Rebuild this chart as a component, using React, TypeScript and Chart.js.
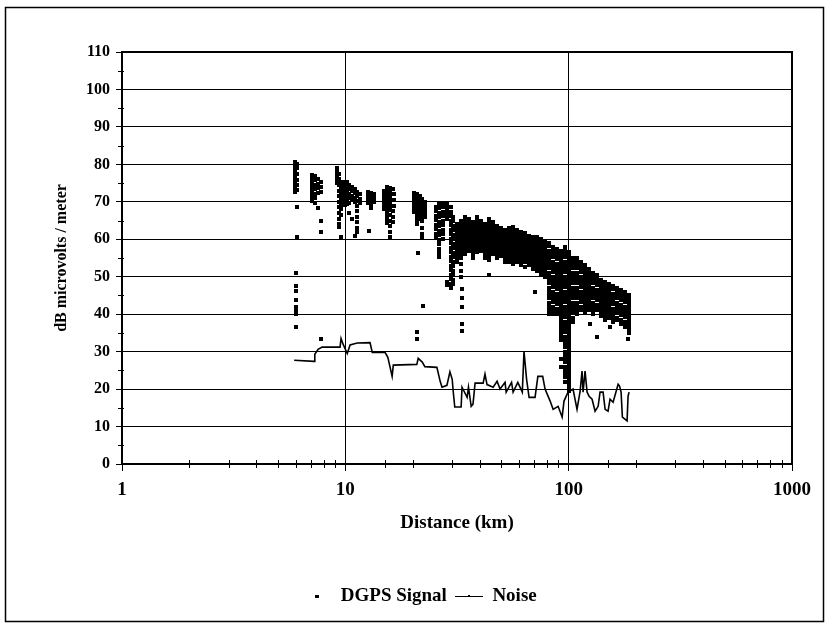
import React, { useEffect, useRef } from 'react';
import { Chart, registerables } from 'chart.js';

Chart.register(...registerables);

// ---- axis values ----
const xTickLabels = [1, 10, 100, 1000];
const yTickLabels = [0, 10, 20, 30, 40, 50, 60, 70, 80, 90, 100, 110];

// ---- DGPS signal readings: [distance km, dB values read at that distance] ----
type Column = [number, number[]];

const signalNear: Column[] = [
  [5.95, [80.5, 79.6, 78.7, 77.8, 76.9, 76.0, 75.1, 74.2, 73.3, 72.5]],
  [6.1, [80.0, 78.9, 77.3, 75.8, 74.5, 73.2, 68.7, 60.5]],
  [6.0, [51.1, 47.4, 46.2, 43.9, 41.8, 40.9, 40.0, 36.5]],
  [7.1, [77.2, 76.2, 75.2, 74.2, 73.2, 72.2, 71.2, 70.2]],
  [7.3, [76.8, 75.7, 74.5, 73.3, 72.1, 70.9, 69.8]],
  [7.55, [76.0, 74.8, 73.6, 72.4, 68.4]],
  [7.75, [75.2, 73.9, 72.6, 64.8, 62.0, 33.3]],
  [9.2, [79.0, 78.0, 77.0, 76.0, 75.0]],
  [9.4, [77.5, 76.0, 74.5, 73.0, 71.5, 70.0, 68.5, 67.0, 65.5, 64.2, 63.4]],
  [9.6, [75.0, 74.0, 73.0, 72.0, 71.0, 70.0, 69.0, 68.0, 66.5, 60.7]],
  [9.8, [75.4, 74.4, 73.4, 72.4, 71.4, 70.4, 69.4]],
  [10.0, [75.0, 74.0, 73.0, 72.0, 71.0, 70.0, 69.2]],
  [10.2, [75.4, 74.2, 73.0, 71.8, 70.6, 69.4]],
  [10.4, [74.5, 73.3, 72.1, 70.9, 69.7, 67.0]],
  [10.7, [74.0, 72.8, 71.6, 70.4, 65.5]],
  [11.0, [73.5, 72.3, 71.1, 69.9, 61.0]],
  [11.3, [72.7, 71.5, 70.3, 69.0, 67.5, 66.0, 64.5, 63.0, 62.0]],
  [11.6, [72.0, 70.8, 69.6]],
  [12.6, [72.7, 71.7, 70.7, 69.7]],
  [12.8, [62.3]],
  [13.0, [72.4, 71.4, 70.4, 69.4, 68.4]],
  [13.4, [72.0, 71.0, 70.0]],
  [14.9, [73.0, 72.0, 71.0, 70.0, 69.0, 68.0]],
  [15.3, [74.0, 73.0, 72.0, 71.0, 70.0, 69.0, 68.0, 67.0, 66.0, 65.0, 64.4]],
  [15.8, [73.8, 72.8, 71.8, 70.8, 69.8, 68.8, 67.8, 66.5, 65.0, 63.5, 62.0, 60.7]],
  [16.3, [73.5, 72.0, 70.5, 69.0, 67.5, 66.0, 64.5]],
  [16.6, [72.0, 70.5, 69.0]],
  [20.3, [72.4, 71.4, 70.4, 69.4, 68.4, 67.4]],
  [20.9, [72.0, 71.0, 70.0, 69.0, 68.0, 67.0, 66.0, 65.0, 64.0, 35.2, 33.3]],
  [21.2, [56.4]],
  [21.5, [71.5, 70.5, 69.5, 68.5, 67.5, 66.5, 65.5]],
  [22.1, [70.8, 69.8, 68.8, 67.8, 66.8, 65.8, 64.8, 63.0, 61.5, 60.4]],
  [22.3, [42.3]],
  [22.7, [70.0, 69.0, 68.0, 67.0, 66.0]],
];

const signalMid: Column[] = [
  [25.5, [68.7, 67.5, 66.3, 65.1, 63.9, 62.7, 61.5, 60.3]],
  [26.3, [69.5, 68.3, 67.1, 65.9, 64.7, 63.5, 62.3, 61.1, 59.9, 58.7, 57.5, 56.3, 55.4]],
  [27.3, [69.8, 68.6, 67.4, 66.2, 65.0, 63.8, 62.6, 61.4, 60.2]],
  [28.5, [69.5, 68.5, 67.5, 66.5, 65.5, 48.5, 47.8]],
  [29.6, [68.5, 67.3, 66.1, 64.9, 63.7, 62.5, 61.3, 60.1, 58.9, 57.7, 56.5, 55.3, 54.1, 52.9, 51.7, 50.5, 49.3, 48.1, 47.0]],
  [30.5, [66.0, 64.8, 63.6, 62.4, 61.2, 60.0, 58.8, 57.6, 56.4, 55.2, 54.0, 52.8, 51.6, 50.4, 49.2, 48.0]],
  [31.6, [64.0, 63.0, 62.0, 61.0, 60.0, 59.0, 58.0, 57.0, 56.0, 55.0, 54.0]],
  [33.0, [65.0, 64.0, 63.0, 62.0, 61.0, 60.0, 59.0, 58.0, 57.0, 56.0, 55.0, 53.3, 51.5, 50.0]],
  [33.3, [46.6, 44.2, 41.8, 37.5, 35.4]],
  [34.4, [66.0, 65.0, 64.0, 63.0, 62.0, 61.0, 60.0, 59.0, 58.0, 57.0, 56.0]],
  [35.8, [65.5, 64.5, 63.5, 62.5, 61.5, 60.5, 59.5, 58.5, 57.5, 57.0]],
  [37.3, [64.5, 63.5, 62.5, 61.5, 60.5, 59.5, 58.5, 57.5, 56.5, 55.5, 55.0]],
  [38.9, [66.0, 65.0, 64.0, 63.0, 62.0, 61.0, 60.0, 59.0, 58.0, 57.0, 56.5]],
  [40.6, [65.0, 64.0, 63.0, 62.0, 61.0, 60.0, 59.0, 58.0, 57.0]],
  [42.2, [64.0, 63.0, 62.0, 61.0, 60.0, 59.0, 58.0, 57.0, 56.0, 55.0]],
  [44.0, [65.5, 64.5, 63.5, 62.5, 61.5, 60.5, 59.5, 58.5, 57.5, 56.5, 55.5, 54.5, 50.5]],
  [45.9, [64.5, 63.5, 62.5, 61.5, 60.5, 59.5, 58.5, 57.5, 56.5, 56.0]],
  [47.8, [63.5, 62.5, 61.5, 60.5, 59.5, 58.5, 57.5, 56.5, 55.5, 55.0]],
  [49.9, [63.0, 62.0, 61.0, 60.0, 59.0, 58.0, 57.0, 56.0, 55.5]],
  [51.9, [62.5, 61.5, 60.5, 59.5, 58.5, 57.5, 56.5, 55.5, 54.5, 54.0]],
];

const signalFar: Column[] = [
  [53.9, [63.0, 62.0, 61.0, 60.0, 59.0, 58.0, 57.0, 56.0, 55.0, 54.0]],
  [56.4, [63.4, 62.4, 61.4, 60.4, 59.4, 58.4, 57.4, 56.4, 55.4, 54.4, 53.5]],
  [58.7, [62.5, 61.5, 60.5, 59.5, 58.5, 57.5, 56.5, 55.5, 54.5, 54.0]],
  [61.2, [62.0, 61.0, 60.0, 59.0, 58.0, 57.0, 56.0, 55.0, 54.0, 53.0]],
  [63.8, [61.8, 60.8, 59.8, 58.8, 57.8, 56.8, 55.8, 54.8, 53.8, 52.5]],
  [66.5, [61.0, 60.0, 59.0, 58.0, 57.0, 56.0, 55.0, 54.0, 53.0]],
  [69.3, [60.7, 59.7, 58.7, 57.7, 56.7, 55.7, 54.7, 53.7, 52.7, 52.0]],
  [70.7, [45.8]],
  [72.2, [60.5, 59.5, 58.5, 57.5, 56.5, 55.5, 54.5, 53.5, 52.5, 51.5]],
  [75.2, [60.0, 59.0, 58.0, 57.0, 56.0, 55.0, 54.0, 53.0, 52.0, 51.0, 50.5]],
  [78.4, [59.5, 58.5, 57.5, 56.5, 55.5, 54.5, 53.5, 52.5, 51.5, 50.5, 50.0]],
  [81.7, [59.0, 58.1, 57.0, 56.2, 55.0, 54.1, 53.0, 52.2, 51.0, 50.1, 49.0, 48.2, 47.0, 46.1, 45.0, 44.2, 43.0, 42.1, 41.0, 40.0]],
  [85.2, [58.0, 57.1, 56.0, 55.2, 54.0, 53.1, 52.0, 51.2, 50.0, 49.1, 48.0, 47.2, 46.0, 45.1, 44.0, 43.2, 42.0, 41.1, 40.0]],
  [89.1, [57.5, 56.6, 55.5, 54.7, 53.5, 52.6, 51.5, 50.7, 49.5, 48.6, 47.5, 46.7, 45.5, 44.6, 43.5, 42.7, 41.5, 40.6, 40.0]],
  [92.5, [57.0, 56.1, 55.0, 54.2, 53.0, 52.1, 51.0, 50.2, 49.0, 48.1, 47.0, 46.2, 45.0, 44.1, 43.0, 42.2, 41.0, 40.1, 39.0, 38.2, 37.0, 36.1, 35.0, 34.2, 33.0, 28.0, 25.8]],
  [96.3, [58.0, 57.1, 56.0, 55.2, 54.0, 53.1, 52.0, 51.2, 50.0, 49.1, 48.0, 47.2, 46.0, 45.1, 44.0, 43.2, 42.0, 41.1, 40.0, 39.2, 38.0, 37.1, 36.0, 35.2, 34.0, 33.1, 32.0, 31.2, 30.0, 29.1, 28.0, 27.2, 26.0, 25.1, 24.0, 23.2, 22.0]],
  [100.4, [56.5, 55.6, 54.5, 53.7, 52.5, 51.6, 50.5, 49.7, 48.5, 47.6, 46.5, 45.7, 44.5, 43.6, 42.5, 41.7, 40.5, 39.6, 38.5, 37.7, 36.5, 35.6, 34.5, 33.7, 32.5, 31.6, 30.5, 29.7, 28.5, 27.6, 26.5, 25.7, 24.5, 23.6, 22.5, 21.7, 20.5, 19.5]],
  [104.6, [55.0, 54.1, 53.0, 52.2, 51.0, 50.1, 49.0, 48.2, 47.0, 46.1, 45.0, 44.2, 43.0, 42.1, 41.0, 40.2, 39.0, 38.0]],
  [108.9, [55.0, 54.1, 53.0, 52.2, 51.0, 50.1, 49.0, 48.2, 47.0, 46.1, 45.0, 44.2, 43.0, 42.1, 41.0, 40.0]],
  [113.7, [54.0, 53.1, 52.0, 51.2, 50.0, 49.1, 48.0, 47.2, 46.0, 45.1, 44.0, 43.2, 42.0, 41.0]],
  [118.4, [53.0, 52.1, 51.0, 50.2, 49.0, 48.1, 47.0, 46.2, 45.0, 44.1, 43.0, 42.2, 41.0, 40.5]],
  [123.4, [52.0, 51.1, 50.0, 49.2, 48.0, 47.1, 46.0, 45.2, 44.0, 43.1, 42.0, 41.0]],
  [124.7, [37.5]],
  [128.6, [51.0, 50.1, 49.0, 48.2, 47.0, 46.1, 45.0, 44.2, 43.0, 42.1, 41.0, 40.0]],
  [134.2, [50.5, 49.6, 48.5, 47.7, 46.5, 45.6, 44.5, 43.7, 42.5, 41.6, 41.0, 33.8]],
  [139.6, [49.0, 48.1, 47.0, 46.2, 45.0, 44.1, 43.0, 42.2, 41.0, 40.1, 39.5]],
  [145.6, [48.5, 47.6, 46.5, 45.7, 44.5, 43.6, 42.5, 41.7, 40.5, 39.6, 38.5]],
  [151.5, [48.0, 47.1, 46.0, 45.2, 44.0, 43.1, 42.0, 41.2, 40.0, 39.0]],
  [153.2, [36.5]],
  [158.1, [47.5, 46.6, 45.5, 44.7, 43.5, 42.6, 41.5, 40.7, 39.5, 38.6, 38.0]],
  [164.7, [47.0, 46.1, 45.0, 44.2, 43.0, 42.1, 41.0, 40.2, 39.0, 38.5]],
  [171.7, [46.5, 45.6, 44.5, 43.7, 42.5, 41.6, 40.5, 39.7, 38.5, 37.5]],
  [178.9, [46.0, 45.1, 44.0, 43.2, 42.0, 41.1, 40.0, 39.2, 38.0, 37.1, 36.5]],
  [184.5, [33.3]],
  [186.4, [45.0, 44.1, 43.0, 42.2, 41.0, 40.1, 39.0, 38.2, 37.0, 36.1, 35.0]],
];

// ---- Noise trace ----
const noiseKm = [
  5.9, 7.25, 7.3, 7.55, 7.87, 9.47, 9.57, 9.77, 10.2, 10.5, 11.3, 12.9, 13.2, 15.05, 15.5, 16.2, 16.4,
  20.9, 21.2, 22.1, 22.7, 25.7, 26.6, 27.1, 28.5, 29.4, 30.1, 30.4, 30.9, 33.0, 33.3, 35.1, 35.6, 36.6,
  37.3, 38.1, 41.4, 42.2, 43.1, 45.9, 47.8, 49.3, 51.9, 52.5, 55.5, 56.4, 59.2, 62.0, 63.1, 64.8, 66.5,
  70.7, 72.8, 76.5, 78.4, 82.6, 85.2, 89.7, 93.5, 95.3, 99.4, 104.6, 109.0, 112.5, 114.8, 116.0, 118.4,
  120.9, 123.4, 127.3, 131.3, 135.5, 138.2, 142.6, 145.6, 150.1, 153.2, 158.1, 166.5, 169.0, 171.7, 174.0,
  182.6, 184.5, 186.4,
];
const noiseDb = [
  27.7, 27.4, 29.3, 30.6, 31.2, 31.2, 33.5, 32.0, 29.5, 31.8, 32.3, 32.4, 29.8, 29.8, 28.5, 23.4, 26.4,
  26.6, 28.2, 27.2, 26.0, 25.8, 22.0, 20.5, 21.0, 24.6, 22.6, 19.5, 15.2, 15.2, 20.5, 17.8, 20.5, 15.4,
  16.0, 21.6, 21.6, 24.0, 21.2, 20.5, 22.1, 20.0, 21.8, 19.2, 21.8, 19.2, 21.8, 19.2, 30.1, 22.6, 17.8,
  17.8, 23.4, 23.4, 20.0, 16.8, 14.6, 15.4, 12.5, 16.8, 19.2, 20.0, 14.6, 19.4, 24.8, 19.2, 24.8,
  19.2, 18.1, 17.3, 14.1, 15.4, 19.2, 19.2, 14.6, 14.1, 17.3, 16.5, 21.3, 20.8, 19.2, 12.5,
  11.5, 18.1, 19.2,
];

const SERIF = "'Liberation Serif', 'Times New Roman', serif";

export default function App() {
  const ref = useRef<HTMLCanvasElement | null>(null);

  useEffect(() => {
    const canvas = ref.current;
    if (!canvas) return;

    const mk = (w: number, h: number, draw: (g: CanvasRenderingContext2D) => void) => {
      const c = document.createElement('canvas');
      c.width = w;
      c.height = h;
      const g = c.getContext('2d')!;
      g.fillStyle = '#000';
      draw(g);
      return c;
    };
    const signalMarker = mk(4, 4, (g) => g.fillRect(0, 0, 4, 4));
    const legendSignalMarker = mk(4, 3, (g) => g.fillRect(0, 0, 4, 3));
    const noiseMarker = mk(28, 5, (g) => {
      g.fillRect(0, 2, 28, 1);
      g.fillRect(13, 1, 2, 2);
    });

    const signalPoints = [...signalNear, ...signalMid, ...signalFar].flatMap(([km, dbs]) =>
      dbs.map((db) => ({ x: km, y: db }))
    );
    const noisePoints = noiseKm.map((km, i) => ({ x: km, y: noiseDb[i] }));

    const isDecade = (v: number) => xTickLabels.some((t) => Math.abs(t - v) < 1e-9);
    const isYMajor = (v: number) => yTickLabels.includes(v);

    const decor = {
      id: 'decor',
      beforeDraw(chart: any) {
        chart.ctx.imageSmoothingEnabled = false;
      },
      afterDraw(chart: any) {
        const { ctx, chartArea: a } = chart;
        const xs = chart.scales.x;
        const ys = chart.scales.y;
        ctx.save();
        ctx.strokeStyle = '#000';
        ctx.lineWidth = 1;
        xs.ticks.forEach((t: any) => {
          if (!isDecade(t.value)) {
            const px = Math.round(xs.getPixelForValue(t.value)) + 0.5;
            ctx.beginPath();
            ctx.moveTo(px, a.bottom - 4);
            ctx.lineTo(px, a.bottom + 4);
            ctx.stroke();
          }
        });
        ys.ticks.forEach((t: any) => {
          if (!isYMajor(t.value)) {
            const py = Math.round(ys.getPixelForValue(t.value)) + 0.5;
            ctx.beginPath();
            ctx.moveTo(a.left - 4, py);
            ctx.lineTo(a.left + 2, py);
            ctx.stroke();
          }
        });
        ctx.lineWidth = 2;
        ctx.strokeRect(a.left, a.top, a.right - a.left, a.bottom - a.top);
        ctx.lineWidth = 1.5;
        ctx.strokeRect(5.5, 7.5, 818, 614);
        ctx.restore();
      },
    };

    const chart = new Chart(canvas, {
      type: 'scatter',
      data: {
        datasets: [
          {
            label: 'DGPS Signal',
            data: signalPoints,
            pointStyle: signalMarker as any,
            pointRadius: 2,
            backgroundColor: '#000',
            borderColor: '#000',
            showLine: false,
          },
          {
            label: 'Noise',
            data: noisePoints,
            showLine: true,
            pointRadius: 0,
            borderColor: '#000',
            backgroundColor: '#000',
            borderWidth: 1.6,
            tension: 0,
          },
        ],
      },
      options: {
        animation: false,
        responsive: false,
        devicePixelRatio: 1,
        events: [],
        layout: { padding: { left: 48, right: 38, top: 52, bottom: 8 } },
        plugins: {
          tooltip: { enabled: false },
          legend: {
            position: 'bottom',
            labels: {
              usePointStyle: true,
              pointStyleWidth: 28,
              padding: 8,
              color: '#000',
              font: { family: SERIF, size: 19, weight: 'bold' },
              generateLabels: (ch: any) => {
                const items = (Chart.defaults.plugins.legend.labels as any).generateLabels(ch);
                items.forEach((it: any, i: number) => {
                  it.pointStyle = i === 0 ? legendSignalMarker : noiseMarker;
                });
                return items;
              },
            },
          },
        },
        scales: {
          x: {
            type: 'logarithmic',
            min: 1,
            max: 1000,
            afterFit: (s: any) => {
              s.height = 115;
            },
            border: { display: false },
            grid: {
              color: (c: any) => (isDecade(c.tick.value) ? '#000' : 'rgba(0,0,0,0)'),
              tickColor: (c: any) => (isDecade(c.tick.value) ? '#000' : 'rgba(0,0,0,0)'),
              tickLength: 7,
              lineWidth: 1,
            },
            ticks: {
              autoSkip: false,
              maxRotation: 0,
              minRotation: 0,
              padding: 8,
              color: '#000',
              font: { family: SERIF, size: 19, weight: 'bold' },
              callback: (v: any) => (isDecade(Number(v)) ? String(v) : ''),
            },
            title: {
              display: true,
              text: 'Distance (km)',
              color: '#000',
              font: { family: SERIF, size: 19, weight: 'bold' },
              padding: { top: 0, bottom: 45 },
            },
          },
          y: {
            type: 'linear',
            min: 0,
            max: 110,
            afterFit: (s: any) => {
              s.width = 74;
            },
            border: { display: false },
            grid: {
              color: (c: any) => (isYMajor(c.tick.value) ? '#000' : 'rgba(0,0,0,0)'),
              tickColor: (c: any) => (isYMajor(c.tick.value) ? '#000' : 'rgba(0,0,0,0)'),
              tickLength: 6,
              lineWidth: 1,
            },
            ticks: {
              stepSize: 5,
              autoSkip: false,
              padding: 6,
              color: '#000',
              font: { family: SERIF, size: 16, weight: 'bold' },
              callback: (v: any) => (isYMajor(Number(v)) ? String(v) : ''),
            },
            title: {
              display: true,
              text: 'dB microvolts / meter',
              color: '#000',
              font: { family: SERIF, size: 16, weight: 'bold' },
              padding: { top: 4, bottom: 4 },
            },
          },
        },
      },
      plugins: [decor],
    } as any);

    return () => chart.destroy();
  }, []);

  return (
    <div style={{ position: 'absolute', left: 0, top: 0, width: 830, height: 624, background: '#fff' }}>
      <canvas ref={ref} width={830} height={624} style={{ display: 'block', width: 830, height: 624 }} />
    </div>
  );
}
